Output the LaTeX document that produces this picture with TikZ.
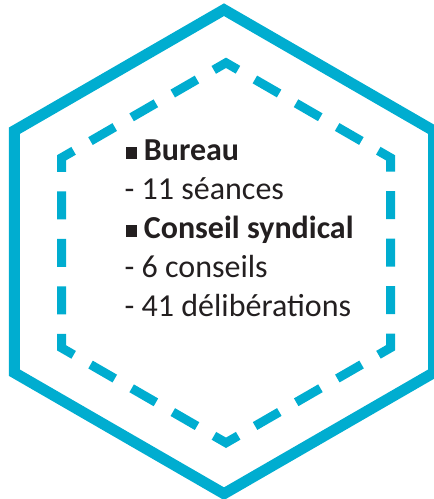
\documentclass[tikz,border=0pt]{standalone}
\usepackage{fontspec}
\setmainfont{Carlito}
\usepackage{xcolor}
\usetikzlibrary{calc}
\definecolor{hexblue}{RGB}{0,173,208}
\definecolor{txtgray}{RGB}{35,31,32}
\newcommand{\sqbullet}{\raisebox{1.5pt}{\rule{11.5pt}{11.5pt}}\hspace{6.5pt}}

\begin{document}
\begin{tikzpicture}[x=1pt, y=-1pt,
        itemline/.style={anchor=base west, inner sep=0pt, text=txtgray, font=\fontsize{32}{39}\selectfont},
        outerhex/.style={draw=hexblue, line width=11pt, line join=miter},
        innerhex/.style={draw=hexblue, line width=9pt, line join=miter, dash pattern=on 28pt off 19.5pt, dash phase=37.75pt}]
    \useasboundingbox (0,0) rectangle (434,499);

    % outer hexagon
    \coordinate (ot) at (224, 9.7);
    \coordinate (our) at (433.6, 130.7);
    \coordinate (olr) at (433.6, 372.7);
    \coordinate (ob) at (224, 493.7);
    \coordinate (oll) at (14.4, 372.7);
    \coordinate (oul) at (14.4, 130.7);
    \draw[outerhex] (ot) -- (our) -- (olr) -- (ob) -- (oll) -- (oul) -- cycle;

    % inner dashed hexagon
    \coordinate (it) at (226, 62.8);
    \coordinate (iur) at (390.5, 157.8);
    \coordinate (ilr) at (390.5, 347.8);
    \coordinate (ib) at (226, 442.8);
    \coordinate (ill) at (61.5, 347.8);
    \coordinate (iul) at (61.5, 157.8);
    \coordinate (istart) at ($(it)!23.75pt!(iul)$);
    \draw[innerhex] (istart) -- (iul) -- (ill) -- (ib) -- (ilr) -- (iur) -- (it) -- (istart);

    % text
    \node[itemline] (bureau) at (125.7, 160) {\sqbullet\textbf{Bureau}};
    \node[itemline] (seances) at (124.5, 199) {- 11 séances};
    \node[itemline] (conseil) at (125.7, 238) {\sqbullet\textbf{Conseil syndical}};
    \node[itemline] (conseils) at (124.5, 277) {- 6 conseils};
    \node[itemline] (delib) at (124.5, 316) {- 41 délibérations};
\end{tikzpicture}
\end{document}
